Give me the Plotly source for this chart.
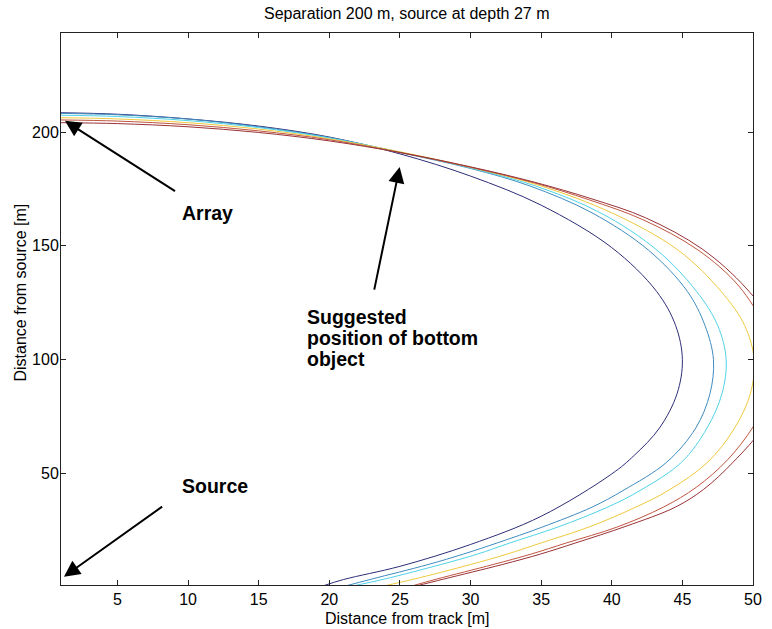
import plotly.graph_objects as go

# ---- data (distance from track x [m], distance from source y [m]) ----
navy_x = [1, 5, 10, 15, 20, 25, 30, 35, 40, 43.17, 44.52, 45.0, 44.62, 43.38, 41.6, 40, 35, 30, 25, 21, 19.5]
navy_y = [208.47, 207.82, 205.76, 202.6, 197.8, 190.4, 180.64, 167.86, 149.22, 130, 115, 100, 85, 70, 58, 49.8, 31.2, 18.8, 9.2, 3.4, 0.5]

steel_x = [1, 5, 10, 15, 20, 25, 30, 34.2, 38.6, 42.6, 45.35, 46.6, 47.2, 46.95, 45.95, 43.9, 40.8, 38.6, 35.1, 31.9, 29.5, 27.0, 23.0, 21.1]
steel_y = [208.18, 207.58, 205.71, 202.3, 197.6, 191.0, 184.0, 176.3, 164.5, 148.1, 130, 115, 100, 85, 70, 55, 42.5, 35.2, 26.5, 19.5, 14.6, 10.0, 3.6, 0.5]

cyan_x = [1, 5, 10, 15, 20, 25, 30, 34.6, 39.2, 43.2, 46.0, 47.5, 48.1, 47.8, 46.75, 44.95, 42.0, 39.7, 36.2, 32.8, 30.5, 27.9, 23.9, 21.6]
cyan_y = [207.38, 206.81, 205.01, 201.95, 197.4, 191.2, 184.2, 176.3, 164.5, 148.1, 130, 115, 100, 85, 70, 55, 42.5, 35.2, 26.5, 19.5, 14.6, 10.0, 3.6, 0.5]

yellow_x = [1, 5, 10, 15, 20, 25, 30, 35, 40, 44.7, 47.74, 49.41, 50.08, 49.81, 48.7, 46.8, 44.0, 41.7, 38.4, 35, 32.6, 30, 26, 23.8]
yellow_y = [206.28, 205.75, 204.10, 201.28, 197.0, 191.3, 184.5, 176.3, 164.5, 148.1, 130, 115, 100, 85, 70, 55, 42.5, 35.2, 26.5, 19.5, 14.6, 10.0, 3.6, 0.5]

red_x = [1, 5, 10, 15, 20, 25, 30, 34.5, 38.4, 42.2, 46.1, 49.0, 50.75, 51.45, 51.2, 50.0, 48.2, 46.0, 43.65, 40.4, 36.8, 34.3, 31.6, 27.6, 25.8]
red_y = [205.3, 204.8, 203.2, 200.5, 196.6, 191.0, 184.5, 177.7, 170.2, 161.5, 148.2, 132.3, 115, 100, 85, 70.4, 56.0, 44.0, 35.2, 26.5, 19.5, 14.6, 10.0, 3.6, 0.5]

dred_x = [1, 5, 10, 15, 20, 25, 30, 34.5, 38.6, 42.4, 46.4, 49.5, 51.45, 52.1, 51.8, 50.67, 48.6, 46.5, 44.5, 41.0, 37.45, 34.95, 32.25, 28.1, 26.1]
dred_y = [204.1, 203.7, 202.3, 199.8, 196.1, 191.0, 184.7, 178.0, 170.6, 162.3, 148.6, 131.5, 115, 100, 85, 70, 55, 43.0, 35.2, 26.8, 19.5, 14.6, 10.0, 3.6, 0.5]

x_ticks = [5, 10, 15, 20, 25, 30, 35, 40, 45, 50]
y_ticks = [50, 100, 150, 200]

series = [
    (navy_x, navy_y, "#2d2d78"),
    (steel_x, steel_y, "#3f8cc0"),
    (cyan_x, cyan_y, "#4fd3e6"),
    (yellow_x, yellow_y, "#efc93e"),
    (red_x, red_y, "#c0553f"),
    (dred_x, dred_y, "#993236"),
]

FONT = "Liberation Sans, Arial, sans-serif"

fig = go.Figure()
for xs, ys, c in series:
    fig.add_trace(go.Scatter(x=xs, y=ys, mode="lines",
                             line=dict(color=c, width=1, shape="spline", smoothing=1.0),
                             showlegend=False, hoverinfo="skip"))

W, H = 772, 629
L, R, T, B = 61, 762, 33, 585

def px(xp):
    return (xp - L) / (R - L)

def py(yp):
    return (B - yp) / (B - T)

annotations = [
    dict(text="Separation 200 m, source at depth 27 m", x=px(411.5), y=py(14), xref="paper", yref="paper",
         showarrow=False, font=dict(family=FONT, size=16, color="black"), xanchor="center", yanchor="middle"),
    dict(text="Distance from track [m]", x=px(411.5), y=py(618), xref="paper", yref="paper",
         showarrow=False, font=dict(family=FONT, size=16, color="black"), xanchor="center", yanchor="middle"),
    dict(text="Distance from source [m]", x=px(19), y=py(293), xref="paper", yref="paper", textangle=-90,
         showarrow=False, font=dict(family=FONT, size=16, color="black"), xanchor="center", yanchor="middle"),
]

bold = dict(family=FONT, size=19.5, color="black")
labels = [("<b>Array</b>", 9.46, 164.4), ("<b>Suggested</b>", 18.27, 118.6),
          ("<b>position of bottom</b>", 18.27, 109.4), ("<b>object</b>", 18.27, 100.2),
          ("<b>Source</b>", 9.46, 44.7)]
for t, x, y in labels:
    annotations.append(dict(text=t, x=x, y=y, xref="x", yref="y", showarrow=False, font=bold,
                            xanchor="left", yanchor="middle"))

arrows = [((1.28, 204.9), (9.18, 173.6)), ((24.98, 184.6), (23.16, 130.1)), ((1.21, 4.66), (8.27, 35.9))]
for (tx, ty), (sx, sy) in arrows:
    annotations.append(dict(text="", x=tx, y=ty, ax=sx, ay=sy, xref="x", yref="y", axref="x", ayref="y",
                            showarrow=True, arrowhead=2, arrowsize=1.6, arrowwidth=2, arrowcolor="black", standoff=0))

axis_common = dict(showline=True, linecolor="#222", linewidth=1, mirror="ticks", ticks="inside", ticklen=5,
                   tickcolor="#222", showgrid=False, zeroline=False,
                   tickfont=dict(family=FONT, size=16, color="black"))

fig.update_layout(
    width=W, height=H,
    margin=dict(l=L, r=W - R, t=T, b=H - B, pad=0),
    paper_bgcolor="white", plot_bgcolor="white",
    xaxis=dict(range=[1, 50], tickvals=x_ticks, ticktext=[str(v) for v in x_ticks], **axis_common),
    yaxis=dict(range=[1, 243.5], tickvals=y_ticks, ticktext=[str(v) for v in y_ticks],
               ticklabelstandoff=-2, **axis_common),
    annotations=annotations,
    showlegend=False,
)

fig.write_html("out.html")
